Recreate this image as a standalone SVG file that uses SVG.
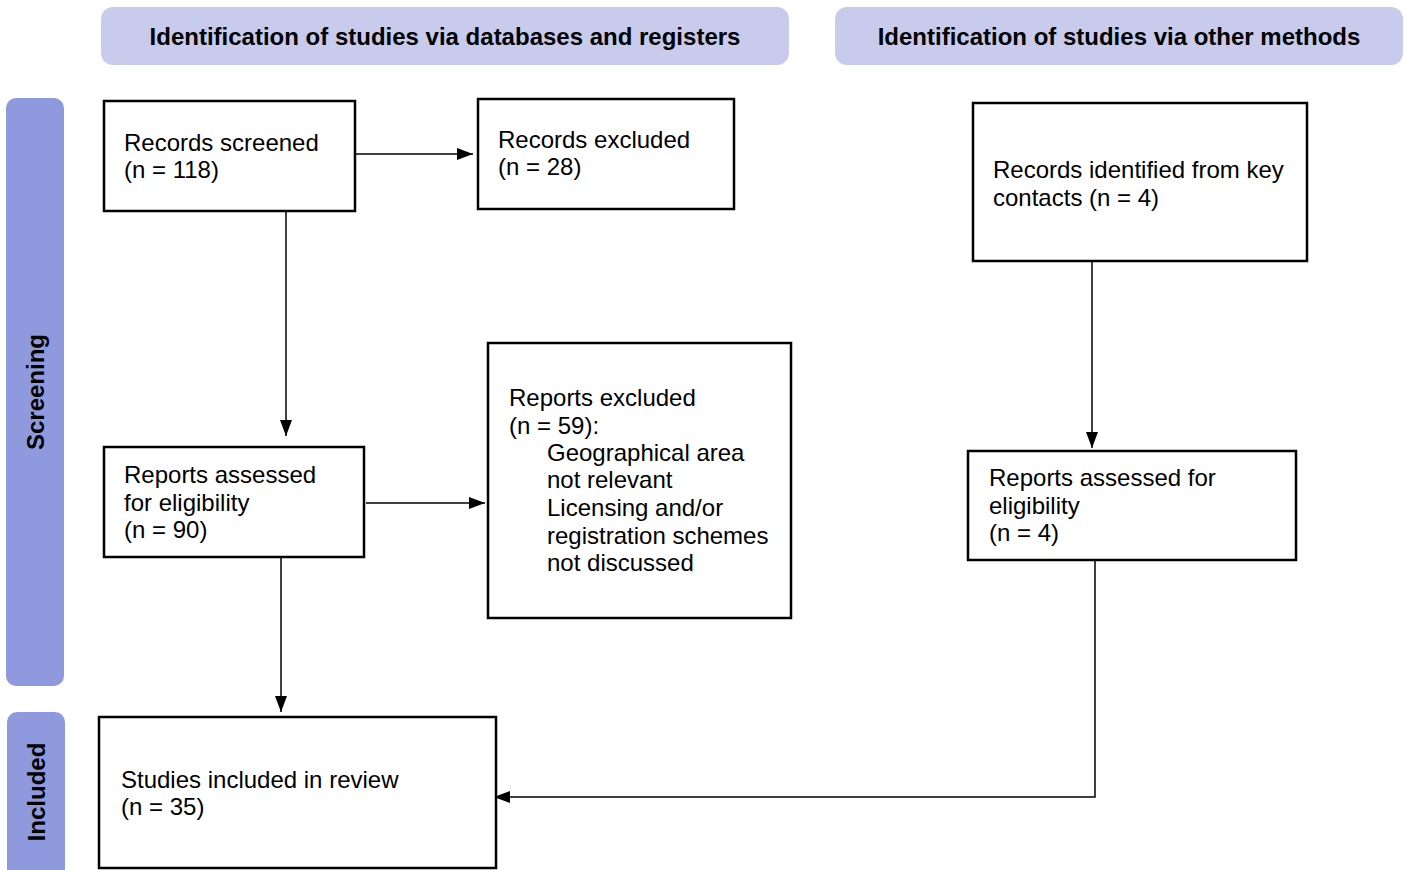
<svg xmlns="http://www.w3.org/2000/svg" width="1406" height="870" viewBox="0 0 1406 870">
<style>
.hdr{fill:#c8cbec}
.bar{fill:#8f99de}
.htxt{font-family:"Liberation Sans",Arial,sans-serif;font-size:24px;font-weight:bold;fill:#000;text-anchor:middle}
.box{fill:#fff;stroke:#000;stroke-width:2.5}
.t{font-family:"Liberation Sans",Arial,sans-serif;font-size:24px;fill:#000}
.c{fill:none;stroke:#000;stroke-width:1.5}
</style>
<defs>
<marker id="ah" viewBox="0 0 10 10" refX="10" refY="5" markerWidth="10" markerHeight="8.5" markerUnits="userSpaceOnUse" orient="auto" preserveAspectRatio="none">
<path d="M0,0 L10,5 L0,10 z" fill="#000"/>
</marker>
<marker id="arr" viewBox="0 0 16 12" refX="16" refY="6" markerWidth="16" markerHeight="12" markerUnits="userSpaceOnUse" orient="auto">
<path d="M0,0 L16,6 L0,12 z" fill="#000"/>
</marker>
</defs>
<g id="header-databases">
<rect class="hdr" x="101" y="7" width="688" height="58" rx="12"/>
<text class="htxt" x="445" y="45">Identification of studies via databases and registers</text>
</g>
<g id="header-other">
<rect class="hdr" x="835" y="7" width="568" height="58" rx="12"/>
<text class="htxt" x="1119" y="45">Identification of studies via other methods</text>
</g>
<g id="stage-screening">
<rect class="bar" x="6" y="98" width="58" height="588" rx="10"/>
<text class="htxt" transform="translate(44,392) rotate(-90)">Screening</text>
</g>
<g id="stage-included">
<rect class="bar" x="7" y="712" width="58" height="190" rx="10"/>
<text class="htxt" transform="translate(45,792) rotate(-90)">Included</text>
</g>
<g id="connectors">
<line class="c" x1="355" y1="154" x2="473" y2="154" marker-end="url(#arr)"/>
<line class="c" x1="286" y1="211" x2="286" y2="436" marker-end="url(#arr)"/>
<line class="c" x1="366" y1="503" x2="485" y2="503" marker-end="url(#arr)"/>
<line class="c" x1="281" y1="557" x2="281" y2="712" marker-end="url(#arr)"/>
<line class="c" x1="1092" y1="261" x2="1092" y2="448" marker-end="url(#arr)"/>
<polyline class="c" points="1095,561 1095,797 494,797" marker-end="url(#arr)"/>
</g>
<g id="records-screened">
<rect class="box" x="104" y="101" width="251" height="110"/>
<text class="t" x="124" y="151">Records screened</text>
<text class="t" x="124" y="178">(n = 118)</text>
</g>
<g id="records-excluded">
<rect class="box" x="478" y="99" width="256" height="110"/>
<text class="t" x="498" y="148">Records excluded</text>
<text class="t" x="498" y="175">(n = 28)</text>
</g>
<g id="records-key-contacts">
<rect class="box" x="973" y="103" width="334" height="158"/>
<text class="t" x="993" y="178">Records identified from key</text>
<text class="t" x="993" y="206">contacts (n = 4)</text>
</g>
<g id="reports-assessed-db">
<rect class="box" x="104" y="447" width="260" height="110"/>
<text class="t" x="124" y="483">Reports assessed</text>
<text class="t" x="124" y="511">for eligibility</text>
<text class="t" x="124" y="538">(n = 90)</text>
</g>
<g id="reports-excluded">
<rect class="box" x="488" y="343" width="303" height="275"/>
<text class="t" x="509" y="406">Reports excluded</text>
<text class="t" x="509" y="434">(n = 59):</text>
<text class="t" x="547" y="461">Geographical area</text>
<text class="t" x="547" y="488">not relevant</text>
<text class="t" x="547" y="516">Licensing and/or</text>
<text class="t" x="547" y="544">registration schemes</text>
<text class="t" x="547" y="571">not discussed</text>
</g>
<g id="reports-assessed-other">
<rect class="box" x="968" y="451" width="328" height="109"/>
<text class="t" x="989" y="486">Reports assessed for</text>
<text class="t" x="989" y="514">eligibility</text>
<text class="t" x="989" y="541">(n = 4)</text>
</g>
<g id="studies-included">
<rect class="box" x="99" y="717" width="397" height="151"/>
<text class="t" x="121" y="788">Studies included in review</text>
<text class="t" x="121" y="815">(n = 35)</text>
</g>
</svg>
